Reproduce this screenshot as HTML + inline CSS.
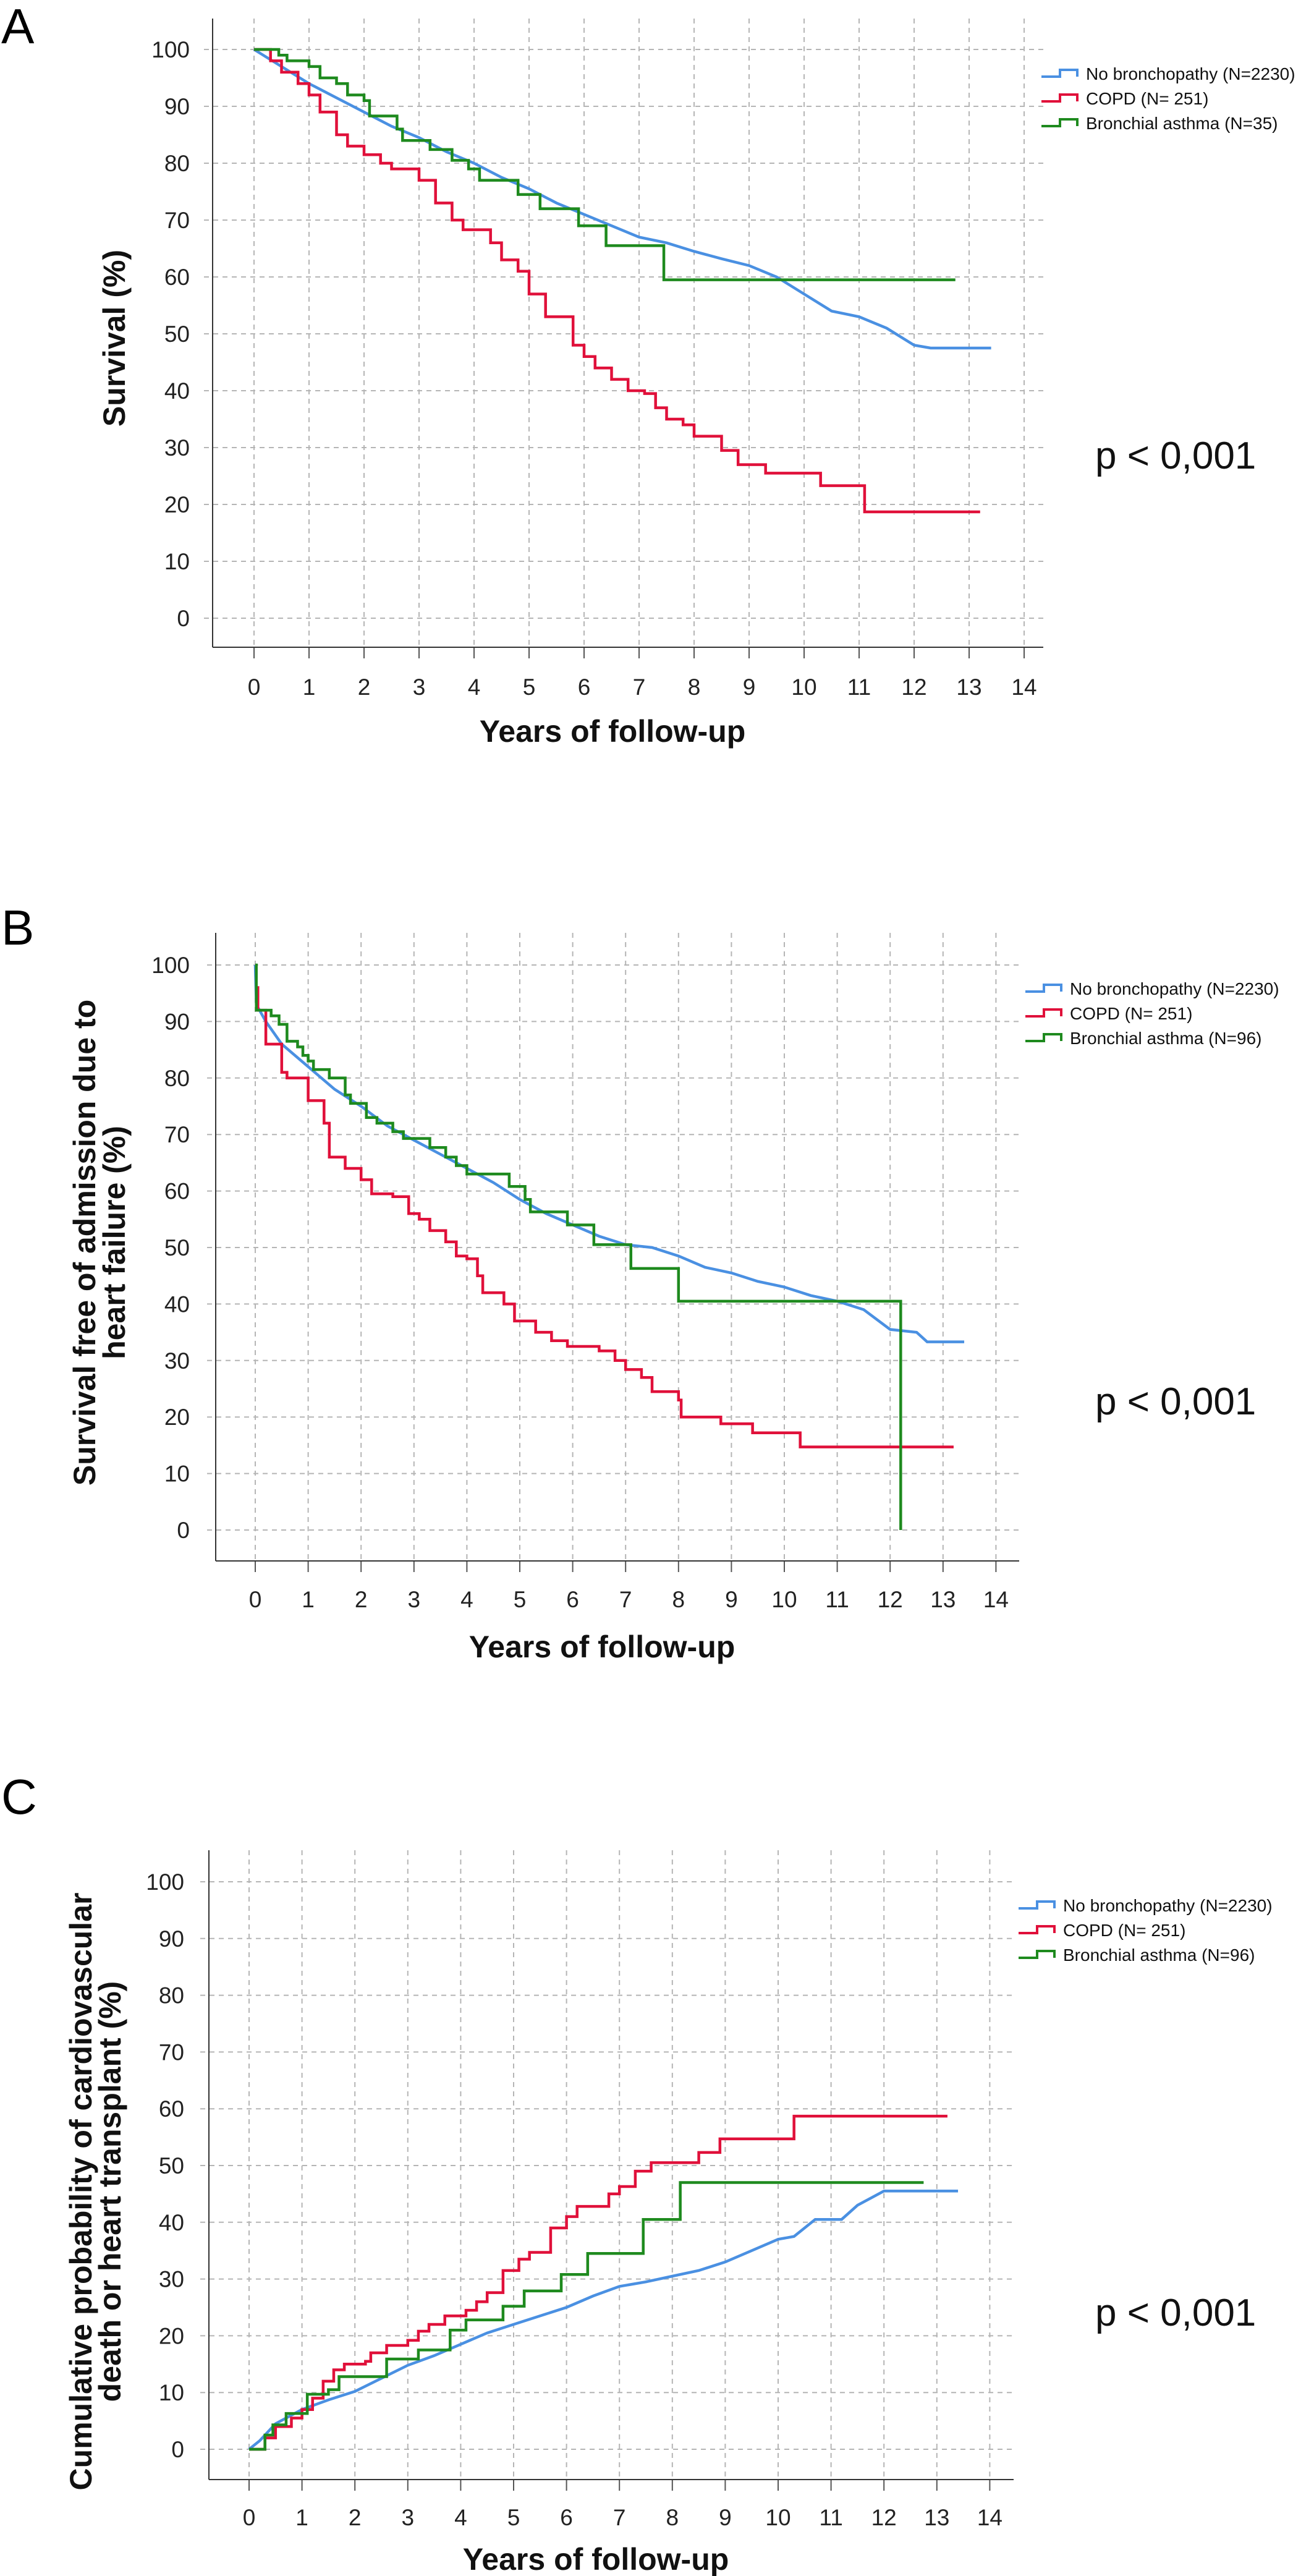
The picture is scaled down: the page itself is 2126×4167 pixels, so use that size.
<!DOCTYPE html>
<html><head><meta charset="utf-8">
<style>
html,body{margin:0;padding:0;background:#fff;}
svg{display:block;font-family:"Liberation Sans",Arial,sans-serif;}
</style></head>
<body>
<svg id="fig" width="2126" height="4167" viewBox="0 0 2126 4167" xmlns="http://www.w3.org/2000/svg"></svg>
<script>
// ---- Data (years, percent) ----
const xTicks = [0,1,2,3,4,5,6,7,8,9,10,11,12,13,14];
const yTicks = [0,10,20,30,40,50,60,70,80,90,100];
const seriesNames = ["No bronchopathy (N=2230)","COPD (N= 251)"];
const asthmaNameA = "Bronchial asthma (N=35)";
const asthmaNameBC = "Bronchial asthma (N=96)";

const aBlueT = [0,0.5,1,1.5,2,2.5,3,3.5,4,4.5,5,5.5,6,6.5,7,7.5,8,8.5,9,9.5,10,10.5,11,11.5,12,12.3,13.4];
const aBlueS = [100,97,94,91.5,89,86.5,84.5,82,80,77.5,75.5,73,71,69,67,66,64.5,63.2,62,60,57,54,53,51,48,47.5,47.5];
const aRedT = [0,0.3,0.5,0.8,1,1.2,1.5,1.7,2,2.3,2.5,3,3.3,3.6,3.8,4.3,4.5,4.8,5,5.3,5.8,6,6.2,6.5,6.8,7.1,7.3,7.5,7.8,8,8.5,8.8,9.3,10.3,11.1,13.2];
const aRedS = [100,98,96,94,92,89,85,83,81.5,80,79,77,73,70,68.3,66,63,61,57,53,48,46,44,42,40,39.5,37,35,34,32,29.5,27,25.5,23.3,18.7,18.7];
const aGreenT = [0,0.45,0.6,1,1.2,1.5,1.7,2,2.1,2.6,2.7,3.2,3.6,3.9,4.1,4.8,5.2,5.9,6.4,7.45,12.75];
const aGreenS = [100,99,98,97,95,94,92,91,88.3,86,84,82.4,80.5,79,77,74.5,72,69,65.5,59.5,59.5];

const bBlueT = [0,0.02,0.2,0.5,1,1.5,2,2.5,3,3.5,4,4.5,5,5.5,6,6.5,7,7.5,8,8.5,9,9.5,10,10.5,11,11.5,12,12.5,12.7,13.4];
const bBlueS = [100,93,90,86,82,78,75,71.5,69,66.5,64,61.5,58.5,56,54,52,50.5,50,48.5,46.5,45.5,44,43,41.5,40.5,39,35.5,35,33.3,33.3];
const bRedT = [0,0.05,0.2,0.5,0.6,1,1.3,1.4,1.7,2,2.2,2.6,2.9,3.1,3.3,3.6,3.8,4,4.2,4.3,4.7,4.9,5.3,5.6,5.9,6.5,6.8,7,7.3,7.5,8,8.05,8.8,9.4,10.3,13.2];
const bRedS = [96,92,86,81,80,76,72,66,64,62,59.5,59,56,55,53,51,48.5,48,45,42,40,37,35,33.5,32.5,31.7,30,28.4,27,24.5,23,20,18.8,17.2,14.7,14.7];
const bGreenT = [0,0.02,0.3,0.45,0.6,0.8,0.9,1,1.1,1.4,1.7,1.8,2.1,2.3,2.6,2.8,3.3,3.6,3.8,4,4.8,5.1,5.2,5.9,6.4,7.1,8,12.2,12.2];
const bGreenS = [100,92,91,89.5,86.5,85.5,84,83,81.5,80,77,75.5,73,72,70.5,69.3,67.7,66,64.5,63,60.8,58.5,56.3,54,50.5,46.3,40.5,40.5,0];

const cBlueT = [0,0.2,0.5,1,1.5,2,2.5,3,3.5,4,4.5,5,5.5,6,6.5,7,7.5,8,8.5,9,9.5,10,10.3,10.7,11.2,11.5,12,13.4];
const cBlueS = [0,1.5,4.5,7,8.7,10.2,12.5,14.8,16.5,18.5,20.5,22,23.5,25,27,28.7,29.5,30.5,31.5,33,35,37,37.5,40.5,40.5,43,45.5,45.5];
const cRedT = [0,0.3,0.5,0.8,1,1.2,1.4,1.6,1.8,2.2,2.3,2.6,3,3.2,3.4,3.7,4.1,4.3,4.5,4.8,5.1,5.3,5.7,6,6.2,6.8,7,7.3,7.6,8.5,8.9,10.3,13.2];
const cRedS = [0,2,4,5.5,7,9,12,14,15,15.5,17,18.3,19.2,20.8,22,23.5,24.5,26,27.6,31.5,33.5,34.7,39,41,42.8,45,46.3,49,50.5,52.3,54.7,58.7,58.7];
const cGreenT = [0,0.3,0.45,0.7,1.1,1.5,1.7,2.6,3.2,3.8,4.1,4.8,5.2,5.9,6.4,7.45,8.15,12.75];
const cGreenS = [0,2.5,4.3,6.3,9.7,10.5,12.8,15.9,17.5,21,22.8,25.2,27.9,30.8,34.5,40.5,47,47];

const BLUE="#4a90e2", RED="#e0103a", GREEN="#1e8a1e";
const NS="http://www.w3.org/2000/svg";
const svg=document.getElementById('fig');
function mk(tag,attrs,parent){const e=document.createElementNS(NS,tag);for(const k in attrs)e.setAttribute(k,attrs[k]);(parent||svg).appendChild(e);return e;}

function panel(cfg){
  const g=mk('g',{});
  
  
  const X=t=>cfg.x0+t*cfg.xPer, Y=v=>cfg.y0-v*cfg.yPer;
  const L=mk('text',{x:2,y:cfg.letterY,'font-size':80,fill:'#000'},g);L.textContent=cfg.letter;
  
  
  xTicks.forEach(t=>{
    const l=mk('line',{x1:X(t),x2:X(t),y1:cfg.top,y2:cfg.bottom,stroke:'#b5b5b5','stroke-width':2,'stroke-dasharray':'8 7'},g);
    
    
    mk('line',{x1:X(t),x2:X(t),y1:cfg.bottom,y2:cfg.bottom+18,stroke:'#555','stroke-width':2},g);
    const tx=mk('text',{x:X(t),y:cfg.tickY,'font-size':37,'text-anchor':'middle',fill:'#222'},g);tx.textContent=t;
    
    
  });
  yTicks.forEach(v=>{
    const l=mk('line',{x1:cfg.left-14,x2:cfg.right,y1:Y(v),y2:Y(v),stroke:'#b5b5b5','stroke-width':2,'stroke-dasharray':'8 7'},g);
    
    
    const tx=mk('text',{x:cfg.yLabX,y:Y(v)+13,'font-size':37,'text-anchor':'end',fill:'#222'},g);tx.textContent=v;
    
    
  });
  mk('line',{x1:cfg.left,x2:cfg.left,y1:cfg.top,y2:cfg.bottom,stroke:'#333','stroke-width':2},g);
  mk('line',{x1:cfg.left,x2:cfg.right,y1:cfg.bottom,y2:cfg.bottom,stroke:'#333','stroke-width':2},g);
  cfg.series.forEach(s=>{
    let d='M'+X(s.t[0])+' '+Y(s.s[0]);
    const n=s.t.length;
    for(let i=1;i<n;i++){
      if(s.smooth && i<n-1) d+=' L'+X(s.t[i])+' '+Y(s.s[i]);
      else d+=' H'+X(s.t[i])+' V'+Y(s.s[i]);
    }
    const p=mk('path',{d:d,fill:'none',stroke:s.c,'stroke-width':4.5,'stroke-linejoin':'miter'},g);
    
    
  });
  cfg.series.forEach((s,i)=>{
    const yc=cfg.legY+i*40, lx=cfg.legX;
    const ic=mk('path',{d:`M${lx} ${yc+5} H${lx+30} V${yc-6} H${lx+58} V${yc+5}`,fill:'none',stroke:s.c,'stroke-width':4},g);
    
    
    const t=mk('text',{x:lx+72,y:yc+10,'font-size':28,fill:'#111'},g);t.textContent=s.name;
    
    
  });
  const pv=mk('text',{x:1772,y:cfg.pY+22,'font-size':62,fill:'#111'},g);pv.textContent='p < 0,001';
  
  
  const xt=mk('text',{x:(cfg.left+cfg.right)/2-25,y:cfg.xTitleY+18,'font-size':50,'font-weight':'bold','text-anchor':'middle',fill:'#111'},g);xt.textContent='Years of follow-up';
  
  
  cfg.yTitle.forEach((line,i)=>{
    const x=cfg.yTitleX[i];
    const yt=mk('text',{x:x,y:cfg.yTitleY,'font-size':50,'font-weight':'bold','text-anchor':'middle',fill:'#111',transform:`rotate(-90 ${x} ${cfg.yTitleY})`,dy:18},g);
    yt.textContent=line;
    
    
  });
}

panel({id:'a',letter:'A',letterY:70,x0:411,xPer:89,y0:1000,yPer:9.2,left:344,right:1688,top:30,bottom:1047,
  tickY:1124,yLabX:307,legX:1685,legY:119,pY:736,xTitleY:1182,yTitle:['Survival (%)'],yTitleX:[184],yTitleY:547,
  series:[{key:'no-bronchopathy',t:aBlueT,s:aBlueS,c:BLUE,smooth:true,name:seriesNames[0]},{key:'copd',t:aRedT,s:aRedS,c:RED,name:seriesNames[1]},{key:'asthma',t:aGreenT,s:aGreenS,c:GREEN,name:asthmaNameA}]});
panel({id:'b',letter:'B',letterY:1528,x0:413,xPer:85.6,y0:2475,yPer:9.14,left:349,right:1649,top:1509,bottom:2525,
  tickY:2600,yLabX:307,legX:1659,legY:1599,pY:2266,xTitleY:2663,yTitle:['Survival free of admission due to','heart failure (%)'],yTitleX:[136,184],yTitleY:2010,
  series:[{key:'no-bronchopathy',t:bBlueT,s:bBlueS,c:BLUE,smooth:true,name:seriesNames[0]},{key:'copd',t:bRedT,s:bRedS,c:RED,name:seriesNames[1]},{key:'asthma',t:bGreenT,s:bGreenS,c:GREEN,name:asthmaNameBC}]});
panel({id:'c',letter:'C',letterY:2934,x0:403,xPer:85.6,y0:3962,yPer:9.18,left:338,right:1640,top:2993,bottom:4011,
  tickY:4085,yLabX:298,legX:1648,legY:3082,pY:3740,xTitleY:4139,yTitle:['Cumulative probability of cardiovascular','death or heart transplant (%)'],yTitleX:[130,177],yTitleY:3545,
  series:[{key:'no-bronchopathy',t:cBlueT,s:cBlueS,c:BLUE,smooth:true,name:seriesNames[0]},{key:'copd',t:cRedT,s:cRedS,c:RED,name:seriesNames[1]},{key:'asthma',t:cGreenT,s:cGreenS,c:GREEN,name:asthmaNameBC}]});
</script>
</body></html>
